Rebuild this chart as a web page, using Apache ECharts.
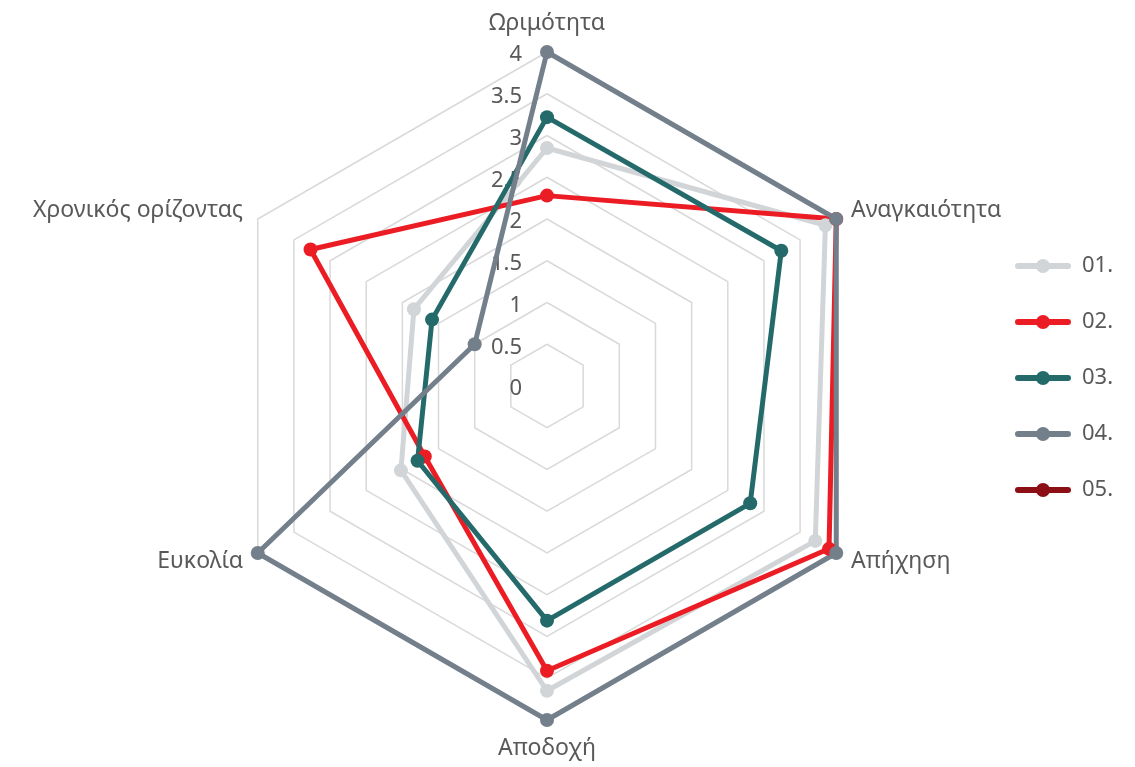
<!DOCTYPE html>
<html>
<head>
<meta charset="utf-8">
<script src="https://cdn.jsdelivr.net/npm/echarts@6/dist/echarts.min.js"></script>
<style>
  html, body { margin: 0; padding: 0; background: #fff; }
  #chart { width: 1135px; height: 767px; }
</style>
</head>
<body>
<div id="chart"></div>
<script>
// indicator order runs counter-clockwise from the top
const indicators = ["Ωριμότητα", "Χρονικός ορίζοντας", "Ευκολία", "Αποδοχή", "Απήχηση", "Αναγκαιότητα"];
const seriesNames = ["01.", "02.", "03.", "04.", "05."];
const s01 = [2.85, 1.84, 2.02, 3.65, 3.71, 3.85];
const s02 = [2.28, 3.27, 1.69, 3.41, 3.9, 4];
const s03 = [3.22, 1.59, 1.79, 2.81, 2.81, 3.24];
const s04 = [4, 1.0, 4, 4, 4, 4];
const s05 = [];
const colors = ["#d1d5d7", "#ec1c24", "#256a6a", "#737f8a", "#8b0f14"];

const legendIcon = "path://M3,6 L53,6 A3,3 0 0 1 53,12 L3,12 A3,3 0 0 1 3,6 Z M21,9 A7,7 0 1 1 35,9 A7,7 0 1 1 21,9 Z";

const allData = [s01, s02, s03, s04, s05];

const chart = echarts.init(document.getElementById("chart"));

const option = {
  animation: false,
  color: colors,
  textStyle: { fontFamily: "Noto Sans" },
  legend: {
    orient: "vertical",
    left: 1010,
    top: 250,
    itemWidth: 56,
    itemHeight: 14,
    itemGap: 34,
    icon: legendIcon,
    textStyle: { fontSize: 22, color: "#595959", padding: [0, 0, 0, 6] },
    data: seriesNames
  },
  radar: {
    center: [547, 386],
    radius: 334,
    startAngle: 90,
    splitNumber: 8,
    shape: "polygon",
    nameGap: 17,
    axisName: { color: "#595959", fontSize: 23 },
    indicator: indicators.map((n, i) => {
      const ind = { name: n, min: 0, max: 4 };
      if (i === 0) {
        ind.axisLabel = { show: true };
      }
      return ind;
    }),
    axisLine: { show: false },
    axisTick: { show: false },
    axisLabel: {
      show: false,
      color: "#595959",
      fontSize: 22,
      margin: 25,
      formatter: "{a|{value}}",
      rich: { a: { color: "#595959", fontSize: 22, padding: [6, 0, 0, 0] } }
    },
    splitLine: { lineStyle: { color: "#d9d9d9", width: 1.5 } },
    splitArea: { show: false }
  },
  series: allData.map((d, i) => ({
    name: seriesNames[i],
    type: "radar",
    symbol: "circle",
    symbolSize: 14,
    lineStyle: { width: 5, color: colors[i] },
    itemStyle: { color: colors[i] },
    data: d.length ? [{ value: d, name: seriesNames[i] }] : []
  }))
};

chart.setOption(option);
window.addEventListener("resize", chart.resize);
</script>
</body>
</html>
